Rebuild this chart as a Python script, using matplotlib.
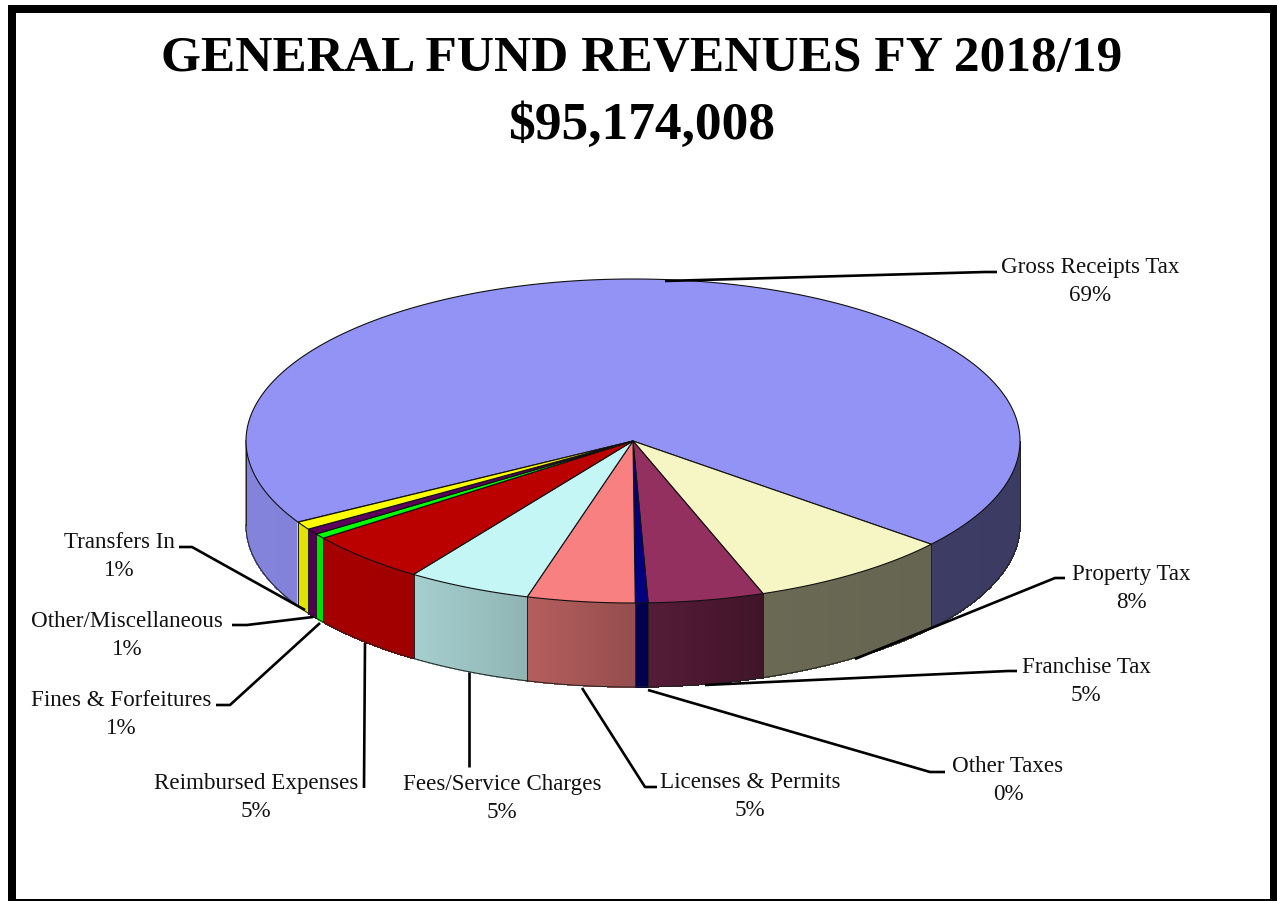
import numpy as np
import matplotlib
matplotlib.use("Agg")
import matplotlib.pyplot as plt
from matplotlib.colors import to_rgb
from matplotlib.patches import Polygon, Rectangle

# Slices, clockwise from the left edge of the big one
categories = ["Gross Receipts Tax", "Property Tax", "Franchise Tax", "Other Taxes",
              "Licenses & Permits", "Fees/Service Charges", "Reimbursed Expenses",
              "Fines & Forfeitures", "Other/Miscellaneous", "Transfers In"]
values = [69.33, 8.55, 4.83, 0.53, 4.50, 5.19, 5.17, 0.50, 0.58, 0.80]
shown_pct = [69, 8, 5, 0, 5, 5, 5, 1, 1, 1]
colors = ["#9393F6", "#F6F5C4", "#93305F", "#000080", "#F88080",
          "#C5F6F6", "#BB0000", "#00FF00", "#5C005C", "#FFFF00"]

label_x = [1090, 1131, 1086, 1008, 750, 502, 256, 121, 127, 119]
label_y = [265, 572, 665, 764, 780, 782, 781, 698, 619, 540]
leaders = [
    [(665, 281), (985, 272), (997, 272)],
    [(855, 659), (1055, 578), (1065, 578)],
    [(705, 685), (1008, 671), (1017, 671)],
    [(648, 690), (930, 772), (945, 772)],
    [(582, 688), (645, 787), (657, 787)],
    [(469, 672), (469, 767)],
    [(365, 643), (364, 788)],
    [(320, 623), (230, 705), (216, 705)],
    [(313, 617), (247, 625), (232, 625)],
    [(305, 610), (192, 547), (179, 547)],
]

cx, cy, rx, ry, depth = 633, 441, 387, 162, 84
start_angle = 210

# wall brightness depends on where it sits left to right
shade_x = [246, 370, 413, 527, 635, 763, 1020]
shade_v = [0.89, 0.88, 0.84, 0.73, 0.60, 0.43, 0.40]

plt.rcParams['font.family'] = ['Liberation Serif', 'DejaVu Serif']

fig = plt.figure(figsize=(12.77, 9.01), dpi=100)
ax = fig.add_axes([0, 0, 1, 1])
ax.set_xlim(0, 1277)
ax.set_ylim(901, 0)
ax.axis('off')


def rim(t):
    return cx + rx * np.cos(t), cy - ry * np.sin(t)


def draw_wall(ts, base):
    for a, b in zip(ts[:-1], ts[1:]):
        xa, ya = rim(a)
        xb, yb = rim(b)
        s = np.interp((xa + xb) / 2, shade_x, shade_v)
        ax.add_patch(Polygon([(xa, ya), (xb, yb), (xb, yb + depth), (xa, ya + depth)],
                             fc=base * s, ec=base * s, lw=0.5, antialiased=False, zorder=2))
    # outline of the wall
    wall_x, wall_y = rim(ts)
    ax.plot(wall_x, wall_y + depth, color='#222222', lw=0.7, zorder=3)
    for t in (ts[0], ts[-1]):
        x0, y0 = rim(t)
        ax.plot([x0, x0], [y0, y0 + depth], color='#222222', lw=0.7, zorder=3)


edges = start_angle - np.cumsum([0] + values) * 3.6

# side walls, only the stretches of rim facing the viewer
for i in range(len(values)):
    deg = np.linspace(edges[i], edges[i + 1], max(int((edges[i] - edges[i + 1]) * 2), 2) + 1)
    base = np.array(to_rgb(colors[i]))
    visible = np.sin(np.radians(deg)) <= 0.001
    runs = np.split(np.arange(len(deg)), np.where(np.diff(visible.astype(int)) != 0)[0] + 1)
    for run in runs:
        if visible[run[0]] and len(run) > 1:
            draw_wall(np.radians(deg[run]), base)

# top faces
for i in range(len(values)):
    ts = np.radians(np.linspace(edges[i], edges[i + 1], 300))
    px, py = rim(ts)
    pts = [(cx, cy)] + list(zip(px, py))
    ax.add_patch(Polygon(pts, fc=colors[i], ec='#111111', lw=0.8, zorder=4))

# leader lines
for pts in leaders:
    xs, ys = zip(*pts)
    ax.plot(xs, ys, color='black', lw=1.9, zorder=5, solid_capstyle='butt')

# labels
for name, pct, x, y in zip(categories, shown_pct, label_x, label_y):
    ax.text(x, y + 2.5, name, ha='center', va='center', fontsize=16.6, color='#111111', zorder=6)
    ax.text(x, y + 30.5, f"{pct}%", ha='center', va='center', fontsize=16.6, color='#111111', zorder=6)

ax.text(642, 59, "GENERAL FUND REVENUES FY 2018/19", ha='center', va='center',
        fontsize=37, fontweight='bold', color='black')
ax.text(642, 126, "$95,174,008", ha='center', va='center',
        fontsize=38.5, fontweight='bold', color='black')

# page frame, four solid bars
for x, y, w, h in [(8, 5, 1269, 8), (8, 5, 8, 896), (1270, 5, 7, 896), (8, 899, 1269, 2)]:
    ax.add_patch(Rectangle((x, y), w, h, fc='black', ec='none', zorder=7))

fig.savefig("out.png", dpi=100)
